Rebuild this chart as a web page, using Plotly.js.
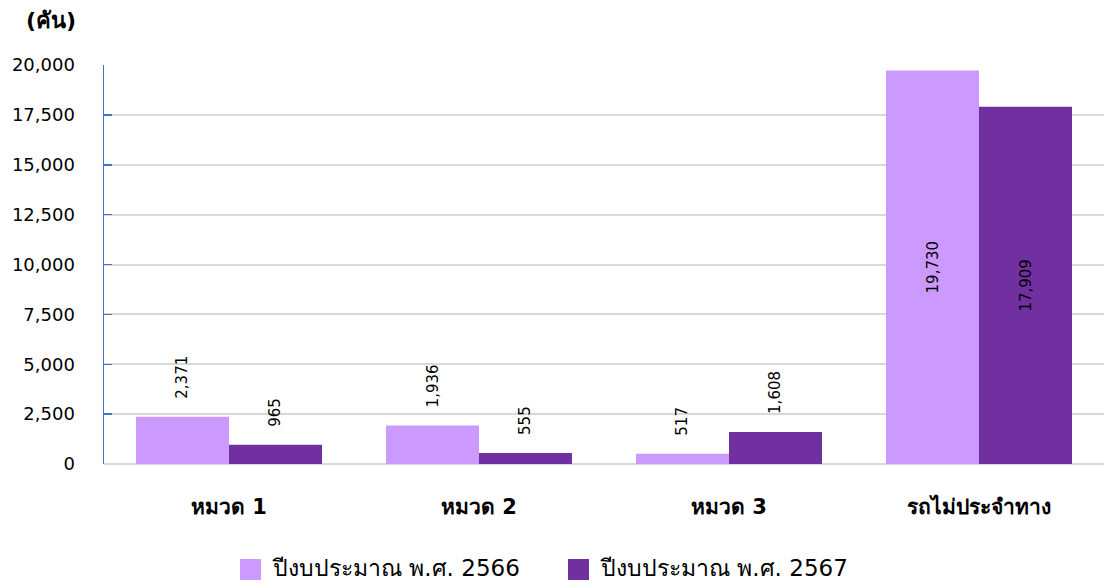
<!DOCTYPE html>
<html><head><meta charset="utf-8">
<script src="https://cdn.plot.ly/plotly-3.0.1.min.js"></script>
<style>html,body{margin:0;padding:0;background:#fff}#c{width:1104px;height:583px}</style>
</head><body><div id="c"></div>
<script>
const categories = ['หมวด 1', 'หมวด 2', 'หมวด 3', 'รถไม่ประจำทาง'];
const series2566 = [2371, 1936, 517, 19730];
const series2567 = [965, 555, 1608, 17909];
const seriesNames = ['ปีงบประมาณ พ.ศ. 2566', 'ปีงบประมาณ พ.ศ. 2567'];
const yTicks = [0, 2500, 5000, 7500, 10000, 12500, 15000, 17500, 20000];

const FONT = 'Tahoma, "DejaVu Sans", "Noto Sans", sans-serif';
const COLORS = ['#cc99ff', '#7030a0'];
const INSIDE_MIN = 10000;
const common = {
  type: 'bar', x: categories, textangle: -90,
  insidetextanchor: 'middle', textposition: 'inside', cliponaxis: false,
  textfont: {family: FONT, size: 15, color: '#000'},
  hoverinfo: 'skip', showlegend: false
};
function insideText(vals){ return vals.map(v => v >= INSIDE_MIN ? v.toLocaleString('en-US') : ''); }
const data = [
  Object.assign({}, common, {y: series2566, name: seriesNames[0], marker: {color: COLORS[0]}, text: insideText(series2566)}),
  Object.assign({}, common, {y: series2567, name: seriesNames[1], marker: {color: COLORS[1]}, text: insideText(series2567)})
];
// outside labels as annotations above small bars
const annotations = [];
const halfGroup = 0.744 / 4;
[[series2566, -1], [series2567, 1]].forEach(([vals, side]) => {
  vals.forEach((v, i) => {
    if (v >= INSIDE_MIN) return;
    annotations.push({x: i + side * halfGroup, y: v, xref: 'x', yref: 'y',
      text: v.toLocaleString('en-US'), textangle: -90, showarrow: false,
      yanchor: 'bottom', xanchor: 'center', yshift: 16,
      font: {family: FONT, size: 15, color: '#000'}});
  });
});
annotations.push({text: '(คัน)', xref: 'paper', yref: 'paper', x: -0.026, y: 1.075,
  xanchor: 'right', yanchor: 'bottom', showarrow: false, font: {size: 22, family: FONT, weight: 'bold'}});

// manual legend (paper coordinates)
const shapes = [];
const legendX = [0.136, 0.464];
seriesNames.forEach((nm, k) => {
  shapes.push({type: 'rect', xref: 'paper', yref: 'paper', x0: legendX[k], x1: legendX[k] + 0.021,
    y0: -0.2907, y1: -0.2381, fillcolor: COLORS[k], line: {width: 0}});
  annotations.push({text: nm, xref: 'paper', yref: 'paper', x: legendX[k] + 0.030, y: -0.2607,
    xanchor: 'left', yanchor: 'middle', showarrow: false, font: {size: 23, family: FONT, color: '#000'}});
});

const layout = {
  width: 1104, height: 583,
  margin: {l: 104, r: 0, t: 65, b: 119, autoexpand: false},
  paper_bgcolor: '#fff', plot_bgcolor: '#fff',
  barmode: 'group', bargap: 0.256, bargroupgap: 0,
  font: {family: FONT, color: '#000'},
  showlegend: false,
  xaxis: {type: 'category', range: [-0.5, 3.5], showgrid: false, showline: false, zeroline: false,
    tickfont: {size: 21, family: FONT, weight: 'bold'}, ticklabelstandoff: 28, ticks: ''},
  yaxis: {range: [0, 20000], tickvals: yTicks, tickformat: ',', showgrid: true,
    gridcolor: '#d9d9d9', gridwidth: 2, zeroline: true, zerolinecolor: '#d9d9d9', zerolinewidth: 2,
    showline: true, linecolor: '#4472c4', linewidth: 1.5, ticks: 'inside', ticklen: 8,
    tickcolor: '#4472c4', tickwidth: 1.5, ticklabelstandoff: 24,
    tickfont: {size: 18, family: FONT}},
  shapes: shapes,
  annotations: annotations
};
Plotly.newPlot('c', data, layout, {displayModeBar: false, staticPlot: true});
</script></body></html>
